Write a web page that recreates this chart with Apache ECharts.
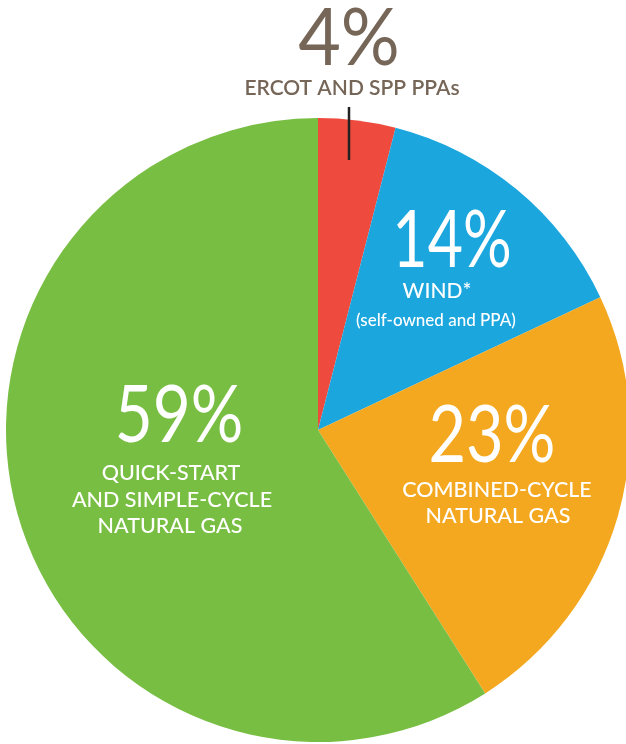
<!DOCTYPE html>
<html><head><meta charset="utf-8">
<script src="https://cdn.jsdelivr.net/npm/echarts@6/dist/echarts.min.js"></script>
<style>html,body{margin:0;padding:0;background:#fff}#c{width:626px;height:744px}</style>
</head><body><div id="c"></div>
<script>
const categories = ['ERCOT AND SPP PPAs', 'WIND*', 'COMBINED-CYCLE NATURAL GAS', 'QUICK-START AND SIMPLE-CYCLE NATURAL GAS'];
const values = [4, 14, 23, 59];
const colors = ['#EE4B3E', '#1BA6DE', '#F4A81F', '#78BE43'];

const chart = echarts.init(document.getElementById('c'), null, {renderer: 'canvas'});
const F = 'Lato, "Open Sans", sans-serif';
const big = (txt, x, y, fill, sx) => ({type: 'text', x: x, y: y, scaleX: sx, style: {text: txt, font: '400 80px ' + F, fill: fill, textAlign: 'center', textVerticalAlign: 'bottom'}, z: 10});
const small = (txt, x, y, fill, size, weight) => ({type: 'text', x: x, y: y, style: {text: txt, font: (weight || 500) + ' ' + (size || 21) + 'px ' + F, fill: fill, textAlign: 'center', textVerticalAlign: 'bottom'}, z: 10});

chart.setOption({
  animation: false,
  series: [{
    type: 'pie',
    center: [318, 430],
    radius: [0, 312],
    startAngle: 90,
    clockwise: true,
    label: {show: false},
    labelLine: {show: false},
    itemStyle: {borderWidth: 0},
    emphasis: {disabled: true},
    data: categories.map((c, i) => ({name: c, value: values[i], itemStyle: {color: colors[i]}}))
  }],
  graphic: [
    {type: 'line', shape: {x1: 349, y1: 107, x2: 349, y2: 160}, style: {stroke: '#222', lineWidth: 2.5}, z: 10},
    big(values[0] + '%', 349, 79, '#756658', 0.92),
    small('ERCOT AND SPP PPAs', 352, 99, '#756658', 21, 600),
    big(values[1] + '%', 452, 281, '#fff', 0.76),
    small('WIND*', 437, 302, '#fff', 21, 500),
    small('(self-owned and PPA)', 436, 329, '#fff', 17, 500),
    big(values[2] + '%', 492, 476, '#fff', 0.81),
    small('COMBINED-CYCLE', 497, 501, '#fff', 21.5, 500),
    small('NATURAL GAS', 498, 527, '#fff', 21.5, 500),
    big(values[3] + '%', 179, 456, '#fff', 0.82),
    small('QUICK-START', 171, 484, '#fff', 21.5, 500),
    small('AND SIMPLE-CYCLE', 172, 511, '#fff', 21.5, 500),
    small('NATURAL GAS', 170, 537, '#fff', 21.5, 500)
  ]
});
</script></body></html>
